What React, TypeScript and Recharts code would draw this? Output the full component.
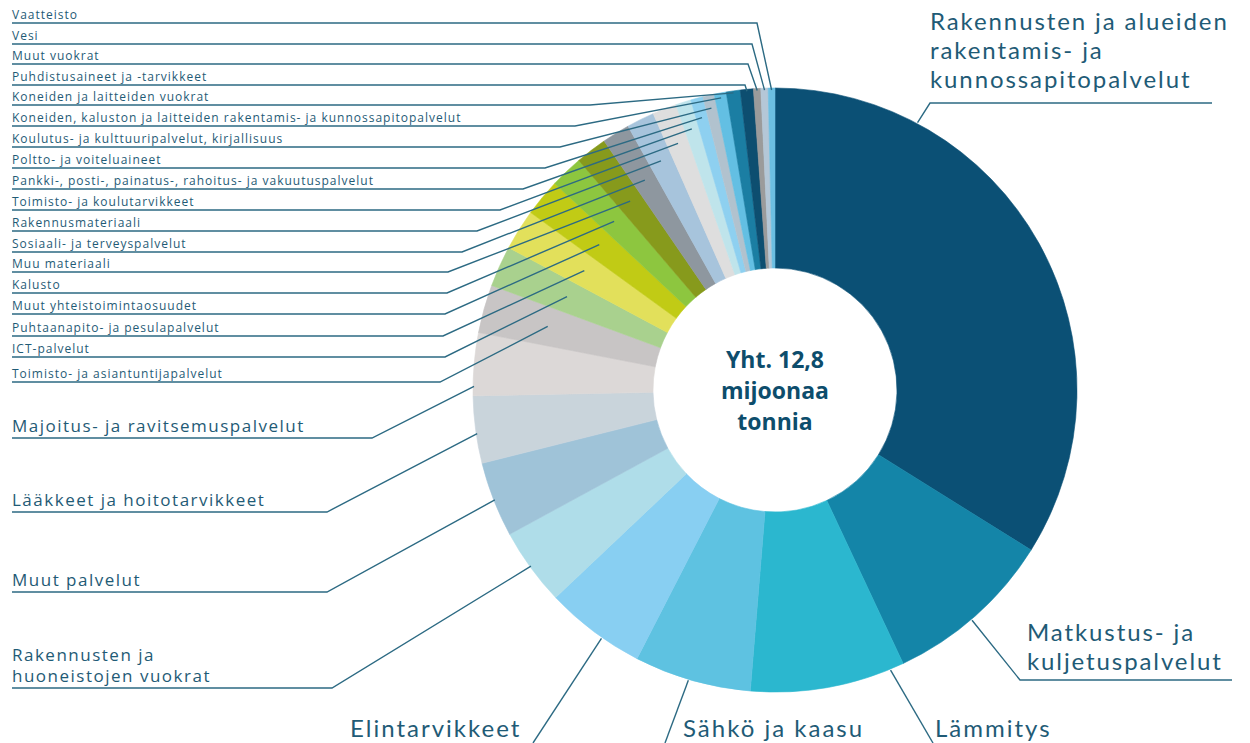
import { PieChart, Pie, Cell } from 'recharts'

// kilotonnes, clockwise from 12 o'clock (total ~12,8 Mt)
const CATEGORIES = [
  'Rakennusten ja alueiden rakentamis- ja kunnossapitopalvelut',
  'Matkustus- ja kuljetuspalvelut',
  'Lämmitys',
  'Sähkö ja kaasu',
  'Elintarvikkeet',
  'Rakennusten ja huoneistojen vuokrat',
  'Muut palvelut',
  'Lääkkeet ja hoitotarvikkeet',
  'Majoitus- ja ravitsemuspalvelut',
  'Toimisto- ja asiantuntijapalvelut',
  'ICT-palvelut',
  'Puhtaanapito- ja pesulapalvelut',
  'Muut yhteistoimintaosuudet',
  'Kalusto',
  'Muu materiaali',
  'Sosiaali- ja terveyspalvelut',
  'Rakennusmateriaali',
  'Toimisto- ja koulutarvikkeet',
  'Pankki-, posti-, painatus-, rahoitus- ja vakuutuspalvelut',
  'Poltto- ja voiteluaineet',
  'Koulutus- ja kulttuuripalvelut, kirjallisuus',
  'Koneiden, kaluston ja laitteiden rakentamis- ja kunnossapitopalvelut',
  'Koneiden ja laitteiden vuokrat',
  'Puhdistusaineet ja -tarvikkeet',
  'Muut vuokrat',
  'Vesi',
  'Vaatteisto',
]

const VALUES_KT = [
  4340, 1170, 1060, 800, 690, 530, 515, 460, 430, 330, 280, 280, 255, 225, 215, 190, 190, 165, 105, 85, 78, 82,
  96, 89, 50, 50, 46,
]

const COLORS = [
  '#0b5075', '#1485a8', '#2bb7cf', '#5ec2e1', '#88cff2', '#afdde9', '#9fc3d8', '#c9d4db', '#dcd8d7',
  '#c8c5c5', '#a9d18e', '#e2e05b', '#c1cb15', '#8dc63f', '#879a1c', '#8e979f', '#a7c4dc', '#dedede',
  '#bfe4eb', '#8ed0f0', '#b1c2ce', '#63bfe3', '#1b7ea3', '#0d4e70', '#9b9b9b', '#b4c7d7', '#6cbfe2',
]

// label placement, one entry per slice (same order as CATEGORIES)
const LABEL_LAYOUT: any[] = [
  { kind: 'right', ux: 930, tx: 930, y: 103, x2: 1212, frac: 0.23, wrap: 23, gap: 15, lh: 29 },
  { kind: 'right', ux: 1020, tx: 1027, y: 680, x2: 1232, frac: 0.53, wrap: 16, gap: 10, lh: 29 },
  { kind: 'bottom', tx: 935, lx: 933, frac: 0.09 },
  { kind: 'bottom', tx: 683, lx: 665, frac: 0.53 },
  { kind: 'bottom', tx: 350, lx: 533, frac: 0.4 },
  { kind: 'left', y: 688, elbowX: 332, frac: 0.51, wrap: 24 },
  { kind: 'left', y: 592, elbowX: 327, frac: 0.49 },
  { kind: 'left', y: 512, elbowX: 327, frac: 0.44 },
  { kind: 'left', y: 438, elbowX: 372, frac: 0.15 },
  { kind: 'small', y: 382, elbowX: 440, r: 236 },
  { kind: 'small', y: 357, elbowX: 445, r: 228 },
  { kind: 'small', y: 336, elbowX: 443, r: 225 },
  { kind: 'small', y: 314, elbowX: 445, r: 228 },
  { kind: 'small', y: 293, elbowX: 447, r: 233 },
  { kind: 'small', y: 272, elbowX: 448, r: 238 },
  { kind: 'small', y: 252, elbowX: 462, r: 247 },
  { kind: 'small', y: 231, elbowX: 477, r: 256 },
  { kind: 'small', y: 210, elbowX: 500, r: 265 },
  { kind: 'small', y: 189, elbowX: 523, r: 274 },
  { kind: 'small', y: 168, elbowX: 545, r: 282 },
  { kind: 'small', y: 147, elbowX: 560, r: 289 },
  { kind: 'small', y: 126, elbowX: 575, r: 297 },
  { kind: 'small', y: 105, elbowX: 590, r: 300 },
  { kind: 'small', y: 85, elbowX: 745, r: 300 },
  { kind: 'small', y: 64, elbowX: 748, r: 300 },
  { kind: 'small', y: 44, elbowX: 752, r: 300 },
  { kind: 'small', y: 23, elbowX: 757, r: 300 },
]

const pieData = CATEGORIES.map((name, i) => ({ name, value: VALUES_KT[i] }))

const textColor = '#1f5b76'
const lineColor = '#2c6a83'
const font = '"Open Sans", sans-serif'
const bigFont = 'Lato, sans-serif'
const RAD = Math.PI / 180

function wrapText(text: string, max: number) {
  const words = text.split(' ')
  const lines: string[] = []
  let cur = ''
  words.forEach((w) => {
    if (cur && (cur + ' ' + w).length > max) {
      lines.push(cur)
      cur = w
    } else {
      cur = cur ? cur + ' ' + w : w
    }
  })
  if (cur) lines.push(cur)
  return lines
}

function renderLabel(props: any) {
  const { cx, cy, midAngle, startAngle, endAngle, outerRadius, index, name } = props
  const lay = LABEL_LAYOUT[index]
  if (!lay) return null
  const pt = (r: number, a: number) => [cx + r * Math.cos(-a * RAD), cy + r * Math.sin(-a * RAD)]
  const fracAngle = startAngle + (lay.frac ?? 0.5) * (endAngle - startAngle)

  if (lay.kind === 'small') {
    const [ex, ey] = pt(lay.r, midAngle)
    return (
      <g key={`l-${index}`}>
        <text x={12} y={lay.y - 4} fill={textColor} fontSize={12} fontFamily={font} letterSpacing={1}>
          {name}
        </text>
        <path d={`M12,${lay.y}H${lay.elbowX}L${ex},${ey}`} stroke={lineColor} strokeWidth={1.4} fill="none" />
      </g>
    )
  }
  if (lay.kind === 'left') {
    const lines = wrapText(name, lay.wrap ?? 99)
    const [px, py] = pt(outerRadius - 1, fracAngle)
    return (
      <g key={`l-${index}`}>
        <text
          x={12}
          y={lay.y - 6 - (lines.length - 1) * 21}
          fill={textColor}
          fontSize={17}
          fontFamily={font}
          letterSpacing={1.5}
        >
          {lines.map((ln, k) => (
            <tspan key={k} x={12} dy={k === 0 ? 0 : 21}>
              {ln}
            </tspan>
          ))}
        </text>
        <path d={`M12,${lay.y}H${lay.elbowX}L${px},${py}`} stroke={lineColor} strokeWidth={1.4} fill="none" />
      </g>
    )
  }
  if (lay.kind === 'right') {
    const lines = wrapText(name, lay.wrap)
    const [px, py] = pt(outerRadius + 1, fracAngle)
    return (
      <g key={`l-${index}`}>
        {lines.map((ln, k) => (
          <text
            key={k}
            x={lay.tx}
            y={lay.y - lay.gap - (lines.length - 1 - k) * lay.lh}
            fill={textColor}
            fontSize={24}
            fontFamily={bigFont}
            letterSpacing={1.9}
          >
            {ln}
          </text>
        ))}
        <path d={`M${px},${py}L${lay.ux},${lay.y}H${lay.x2}`} stroke={lineColor} strokeWidth={1.4} fill="none" />
      </g>
    )
  }
  const [px, py] = pt(outerRadius + 1, fracAngle)
  return (
    <g key={`l-${index}`}>
      <text x={lay.tx} y={737} fill={textColor} fontSize={24} fontFamily={bigFont} letterSpacing={2}>
        {name}
      </text>
      <path d={`M${px},${py}L${lay.lx},743`} stroke={lineColor} strokeWidth={1.4} fill="none" />
    </g>
  )
}

export default function App() {
  return (
    <div style={{ position: 'absolute', left: 0, top: 0, width: 1250, height: 743, background: '#fff' }}>
      <PieChart width={1250} height={743} margin={{ top: 0, right: 0, bottom: 0, left: 0 }}>
        <Pie
          data={pieData}
          dataKey="value"
          nameKey="name"
          cx={775}
          cy={390}
          innerRadius={122}
          outerRadius={302}
          startAngle={90}
          endAngle={-270}
          label={renderLabel}
          labelLine={false}
          isAnimationActive={false}
        >
          {pieData.map((d, i) => (
            <Cell key={d.name} fill={COLORS[i]} stroke={COLORS[i]} strokeWidth={0.6} />
          ))}
        </Pie>
      </PieChart>
      <div
        style={{
          position: 'absolute',
          left: 675,
          top: 344,
          width: 200,
          textAlign: 'center',
          fontFamily: font,
          fontWeight: 700,
          fontSize: 23,
          lineHeight: '31px',
          color: '#0d4d6c',
        }}
      >
        Yht. 12,8
        <br />
        mijoonaa
        <br />
        tonnia
      </div>
    </div>
  )
}
